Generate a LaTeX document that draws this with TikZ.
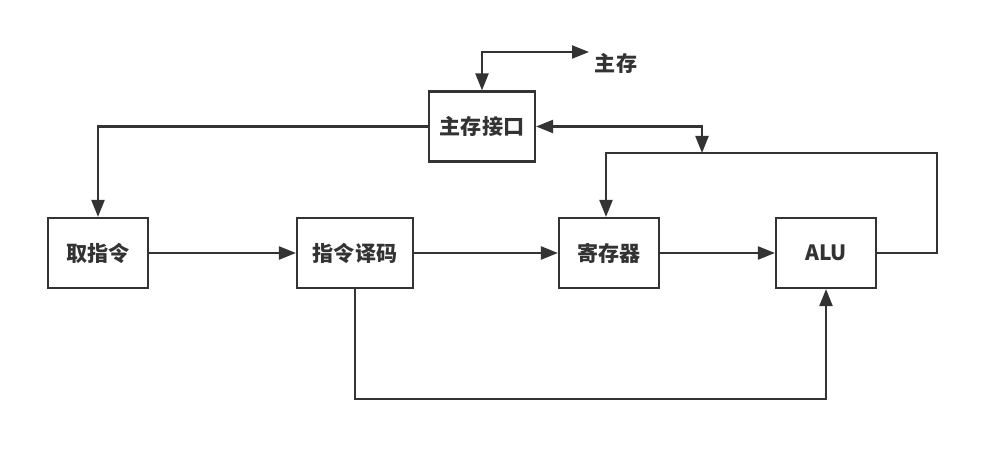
\documentclass[tikz,border=0pt]{standalone}
\usepackage{fontspec}
\setmainfont{Noto Sans CJK SC}
\usetikzlibrary{arrows.meta}
\definecolor{ink}{HTML}{333333}

\begin{document}
\begin{tikzpicture}[x=0.2mm,y=-0.2mm,
  box/.style={draw=ink,line width=1.2pt,minimum width=20mm,minimum height=14mm,inner sep=0pt,font=\fontsize{12}{14}\selectfont\bfseries,text=ink},
  link/.style={draw=ink,line width=1.2pt,>={Triangle[length=3.4mm,width=2.6mm]}}]
\useasboundingbox (0,0) rectangle (1000,463);
\node[box,minimum width=21.2mm] (mem) at (482,126.5) {主存接口};
\node[box] (fetch) at (98,253) {取指令};
\node[box,minimum width=23.2mm] (decode) at (355,253) {指令译码};
\node[box] (reg) at (609,253) {寄存器};
\node[box] (alu) at (826,253) {ALU};
\node[font=\fontsize{12}{14}\selectfont\bfseries,text=ink] (main) at (616,63) {主存};
\coordinate (mainin) at (589,52);
\coordinate (bus) at (702,153);
\coordinate (bend) at (937,153);
\coordinate (low) at (826,399);
% memory side
\draw[link,<->] (mem.north) |- (mainin);
\draw[link,->] (mem.west) -| (fetch.north);
\draw[link,<->] (mem.east) -| (bus);
% pipeline
\draw[link,->] (fetch) -- (decode);
\draw[link,->] (decode) -- (reg);
\draw[link,->] (reg) -- (alu);
% feedback
\draw[link,->] (alu.east) -| (bend) -| ([xshift=-3*0.2mm]reg.north);
\draw[link,->] (decode.south) |- (low) -- (alu.south);
\end{tikzpicture}
\end{document}
